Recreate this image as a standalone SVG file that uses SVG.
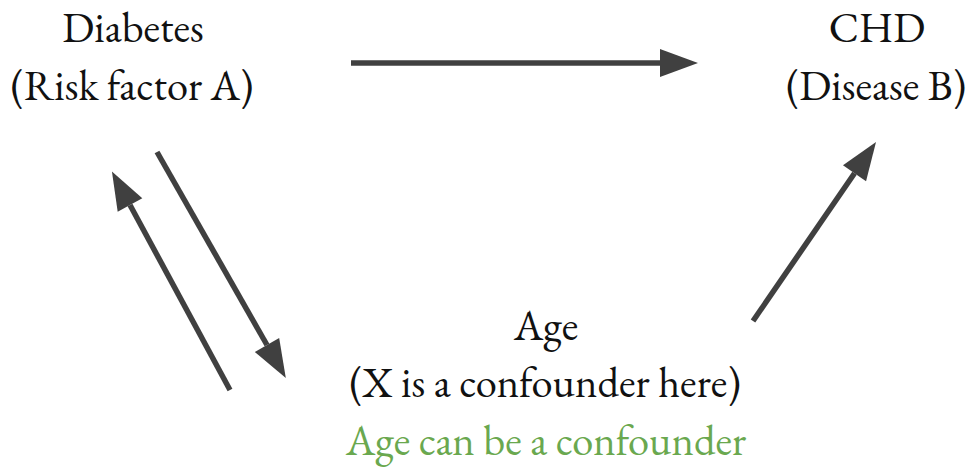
<svg xmlns="http://www.w3.org/2000/svg" width="969" height="473" viewBox="0 0 969 473">
<defs>
<style>
.t{font-family:"EB Garamond","Liberation Serif","Times New Roman",serif;font-size:42.5px;fill:#111;text-anchor:middle}
.g{fill:#6aa84f}
.c{stroke:#404040;stroke-width:5.5;fill:none}
</style>
<marker id="ah" markerUnits="userSpaceOnUse" markerWidth="40" markerHeight="30" refX="0" refY="14" orient="auto" overflow="visible">
<path d="M0,0 L38,14 L0,28 Z" fill="#404040"/>
</marker>
</defs>
<rect width="969" height="473" fill="#fff"/>
<g id="connectors">
<line class="c" x1="351" y1="63" x2="660" y2="63" marker-end="url(#ah)"/>
<line class="c" x1="230" y1="390" x2="130" y2="205" marker-end="url(#ah)"/>
<line class="c" x1="157" y1="152" x2="267" y2="345" marker-end="url(#ah)"/>
<line class="c" x1="753" y1="321" x2="854.5" y2="173.3" marker-end="url(#ah)"/>
</g>
<g id="diabetes">
<text class="t" x="133" y="42">Diabetes</text>
<text class="t" x="132" y="100">(Risk factor A)</text>
</g>
<g id="chd">
<text class="t" x="877" y="42">CHD</text>
<text class="t" x="876" y="100">(Disease B)</text>
</g>
<g id="age">
<text class="t" x="546" y="340">Age</text>
<text class="t" x="545" y="397">(X is a confounder here)</text>
<text class="t g" x="546" y="455">Age can be a confounder</text>
</g>
</svg>
